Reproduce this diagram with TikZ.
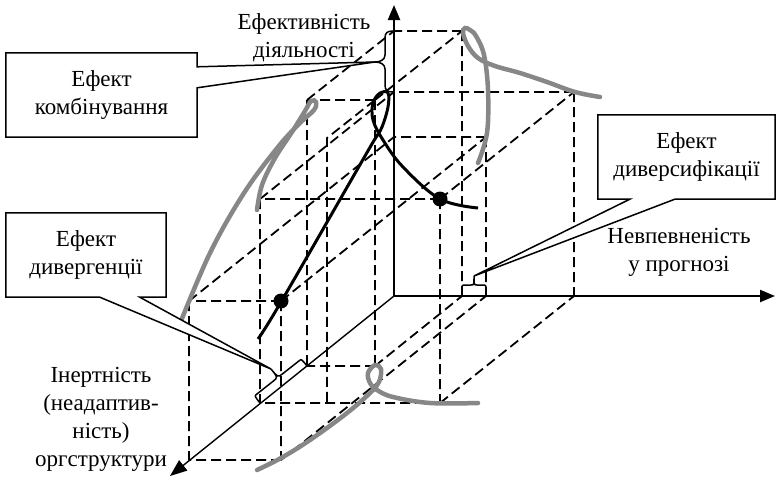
\documentclass[tikz,border=0pt]{standalone}
\usepackage{fontspec}
\setmainfont{Liberation Serif}
\usetikzlibrary{arrows.meta,calc}

\tikzset{
	axisline/.style={line width=2.2pt,-{Triangle[length=15pt,width=12pt]}},
	depthline/.style={line width=1.4pt,-{Triangle[length=17pt,width=13pt]}},
	proj/.style={line width=1.8pt,dash pattern=on 10pt off 5pt},
	blackcurve/.style={line width=3pt,line join=round},
	graycurve/.style={line width=4.5pt,color=black!47,line cap=round},
	dot/.style={circle,fill,inner sep=0pt,minimum size=15pt},
	lbl/.style={font=\fontsize{23}{28}\selectfont,align=center},
	effbox/.style={lbl,fill=white,inner sep=0pt,minimum height=84pt},
	effbrace/.style={line width=1.5pt},
	callout/.style={line width=1.5pt,line join=miter},
}

\begin{document}
\begin{tikzpicture}[x=1pt,y=-1pt]
	\useasboundingbox (0,0) rectangle (776,479);
	
	% axes and points (picture coordinates, y downwards)
	\coordinate (O) at (394,296);
	\coordinate (Ytip) at (394,5);
	\coordinate (Xtip) at (775,296);
	\coordinate (Ztip) at (170,476);
	
	\coordinate (P1) at (440,199); \coordinate (P1b) at (574,92); \coordinate (P1l) at (260,199); \coordinate (P1f) at (440,403);
	\coordinate (Y1) at (394,92); \coordinate (X1) at (574,296); \coordinate (Z1) at (260,403);
	
	\coordinate (P2) at (281,301); \coordinate (P2b) at (486,137); \coordinate (P2l) at (189,301); \coordinate (P2f) at (281,460);
	\coordinate (Y2) at (394,137); \coordinate (X2) at (486,296); \coordinate (Z2) at (189,460);
	
	\coordinate (P3) at (375,100); \coordinate (P3b) at (462,31); \coordinate (P3l) at (307,100); \coordinate (P3f) at (375,366);
	\coordinate (Y3) at (394,31); \coordinate (X3) at (462,296); \coordinate (Z3) at (307,366);
	
	\coordinate (Q) at (327,138); \coordinate (Qf) at (327,403);
	
	% projection boxes
	\draw[proj] (P1) -- (P1b) (P1) -- (P1l) (P1) -- (P1f) (P1b) -- (Y1) (P1b) -- (X1) (P1l) -- (Y1) (P1l) -- (Z1) (P1f) -- (X1) (P1f) -- (Z1);
	\draw[proj] (P2) -- (P2b) (P2) -- (P2l) (P2) -- (P2f) (P2b) -- (Y2) (P2b) -- (X2) (P2l) -- (Y2) (P2l) -- (Z2) (P2f) -- (X2) (P2f) -- (Z2);
	\draw[proj] (P3) -- (P3b) (P3) -- (P3l) (P3) -- (P3f) (P3b) -- (Y3) (P3b) -- (X3) (P3l) -- (Y3) (P3l) -- (Z3) (P3f) -- (X3) (P3f) -- (Z3);
	\draw[proj] (P3) -- (Q) -- (Qf);
	
	% projections of the curve
	\draw[graycurve] plot[smooth,tension=0.6] coordinates {(600,97) (575,92) (547,82) (520,73) (495,66) (478,58) (468,46) (463,33) (465,28) (470,30) (476,36) (484,55) (488,90) (487,133) (478,163)};
	\draw[graycurve] plot[smooth,tension=0.6] coordinates {(257,210) (262,185) (275,158) (292,132) (305,111) (311,101) (316,102) (314,110) (300,123) (278,147) (244,193) (210,253) (179,326)};
	\draw[graycurve] plot[smooth,tension=0.6] coordinates {(478,403) (430,403) (393,397) (377,390) (370,383) (368,373) (375,365) (381,369) (379,382) (370,393) (347,413) (310,440) (281,458) (257,470)};
	
	\draw[blackcurve] plot[smooth,tension=0.6] coordinates {(478,208) (440,199) (403,167) (383,140) (373,120) (373,103) (380,93) (388,93) (388,107) (382,127) (375,139) (365,156) (281,302) (258,339)};
	
	\node[dot] (d1) at (P1) {};
	\node[dot] (d2) at (P2) {};
	
	\draw[axisline] (O) -- (Ytip);
	\draw[axisline] (O) -- (Xtip);
	\draw[depthline] (O) -- (Ztip);
	
	% braces
	\coordinate (combtip) at (375,62);
	\coordinate (divstip) at (474,276);
	\coordinate (divgtip) at (271,369);
	\draw[effbrace] (393,31) .. controls (387,31) and (385,33) .. (385,38) -- (385,55) .. controls (385,60) and (380,62) .. (combtip) .. controls (380,62) and (385,64) .. (385,69) -- (385,85) .. controls (385,90) and (387,92) .. (393,92);
	\draw[effbrace] (X3) -- (462,289) .. controls (462,285) .. (466,285) -- (471,285) .. controls (474,285) .. (divstip) .. controls (474,285) .. (477,285) -- (482,285) .. controls (486,285) .. (486,289) -- (X2);
	\draw[effbrace] (Z3) .. controls (301.4,358.9) .. (299.1,360.8) -- (282.6,373.8) .. controls (277.9,377.4) .. (divgtip) .. controls (277.9,377.4) .. (273.3,381.1) -- (256.8,394.1) .. controls (254.4,395.9) .. (Z1);
	
	% callouts
	\node[effbox,minimum width=191pt] (comb) at (101.5,95) {Ефект\\комбінування};
	\coordinate (cb1) at ($(comb.north east)+(0,14)$);
	\coordinate (cb2) at ($(comb.north east)+(0,35)$);
	\fill[white] (cb1) -- (combtip) -- (cb2) -- cycle;
	\draw[callout] (comb.north east) -- (cb1) -- (combtip) -- (cb2) -- (comb.south east) -- (comb.south west) -- (comb.north west) -- cycle;
	
	\node[effbox,minimum width=177pt] (divs) at (686.5,157) {Ефект\\диверсифікації};
	\coordinate (sb1) at ($(divs.south west)+(32,0)$);
	\coordinate (sb2) at ($(divs.south west)+(77,0)$);
	\fill[white] (sb1) -- (divstip) -- (sb2) -- cycle;
	\draw[callout] (divs.north west) -- (divs.north east) -- (divs.south east) -- (sb2) -- (divstip) -- (sb1) -- (divs.south west) -- cycle;
	
	\node[effbox,minimum width=160pt] (divg) at (86,255) {Ефект\\дивергенції};
	\coordinate (gb1) at ($(divg.south west)+(94,0)$);
	\coordinate (gb2) at ($(divg.south west)+(134,0)$);
	\fill[white] (gb1) -- (divgtip) -- (gb2) -- cycle;
	\draw[callout] (divg.north west) -- (divg.north east) -- (divg.south east) -- (gb2) -- (divgtip) -- (gb1) -- (divg.south west) -- cycle;
	
	% axis names
	\node[lbl] (yname) at (304,38) {Ефективність\\діяльності};
	\node[lbl] (xname) at (679,252) {Невпевненість\\у прогнозі};
	\node[lbl] (zname) at (101,419) {Інертність\\(неадаптив-\\ність)\\оргструктури};
\end{tikzpicture}
\end{document}
